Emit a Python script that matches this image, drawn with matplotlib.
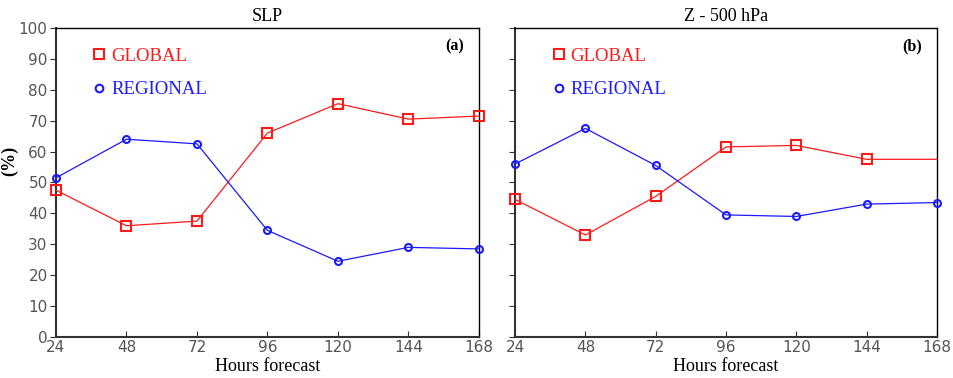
import matplotlib.pyplot as plt
from matplotlib.lines import Line2D

# Horas de pronóstico
horas = [24, 48, 72, 96, 120, 144, 168]

# Panel (a) SLP
slp_global = [47.5, 36, 37.5, 66, 75.5, 70.5, 71.5]
slp_regional = [51.5, 64, 62.5, 34.5, 24.5, 29, 28.5]

# Panel (b) Z - 500 hPa
z500_global = [44.5, 33, 45.5, 61.5, 62, 57.5, 57.5]
z500_regional = [56, 67.5, 55.5, 39.5, 39, 43, 43.5]

serif = 'Liberation Serif'
rojo = '#ff1a1a'
azul = '#1a1aff'

fig = plt.figure(figsize=(9.54, 3.78), dpi=100)
ax1 = fig.add_axes([0.0587, 0.1085, 0.4433, 0.8175])
ax2 = fig.add_axes([0.540, 0.1085, 0.442, 0.8175])

def dibujar(ax, glob, reg, titulo, letra, etiquetas_y, marcar_ultimo=True):
    mk_g = list(range(len(horas))) if marcar_ultimo else list(range(len(horas) - 1))
    ax.plot(horas, glob, color=rojo, lw=0.9, marker='s', ms=6.5, mfc='none',
            mec=rojo, mew=1.5, markevery=mk_g, clip_on=False, zorder=3)
    ax.plot(horas, reg, color=azul, lw=0.9, marker='o', ms=5, mfc='none',
            mec=azul, mew=1.5, clip_on=False, zorder=3)
    ax.set_xlim(24, 168)
    ax.set_ylim(0, 100)
    ax.set_xticks(horas)
    ax.set_yticks(range(0, 101, 10))
    ax.tick_params(axis='x', direction='in', length=4, colors='#333333',
                   labelcolor='#555555', labelsize=11, pad=2)
    ax.tick_params(axis='y', direction='out', length=4, colors='#333333',
                   labelcolor='#555555', labelsize=11, pad=2,
                   labelleft=etiquetas_y)
    for lado in ['left', 'bottom']:
        ax.spines[lado].set_linewidth(1.5)
        ax.spines[lado].set_color('#333333')
    for lado in ['top', 'right']:
        ax.spines[lado].set_linewidth(1.0)
        ax.spines[lado].set_color('black')
    ax.set_title(titulo, fontfamily=serif, fontsize=13, pad=5)
    ax.set_xlabel('Hours forecast', fontfamily=serif, fontsize=13, labelpad=2.5)
    ax.text(0.965, 0.94, letra, transform=ax.transAxes, fontfamily=serif,
            fontweight='bold', fontsize=11.5, ha='right', va='center')
    manejadores = [
        Line2D([], [], ls='none', marker='s', ms=7, mfc='none', mec=rojo, mew=1.5),
        Line2D([], [], ls='none', marker='o', ms=5.5, mfc='none', mec=azul, mew=1.5),
    ]
    leg = ax.legend(manejadores, ['GLOBAL', 'REGIONAL'], loc='upper left',
                    bbox_to_anchor=(0.045, 0.99), frameon=False,
                    handlelength=0.8, handletextpad=0.25, labelspacing=0.85,
                    prop={'family': serif, 'size': 13.5})
    for txt, c in zip(leg.get_texts(), [rojo, azul]):
        txt.set_color(c)

dibujar(ax1, slp_global, slp_regional, 'SLP', '(a)', True)
dibujar(ax2, z500_global, z500_regional, 'Z - 500 hPa', '(b)', False, marcar_ultimo=False)

ax1.set_ylabel('(%)', fontfamily=serif, fontsize=13, fontweight='bold')
ax1.yaxis.set_label_coords(-0.09, 0.57)

fig.savefig('out.png', dpi=100)
